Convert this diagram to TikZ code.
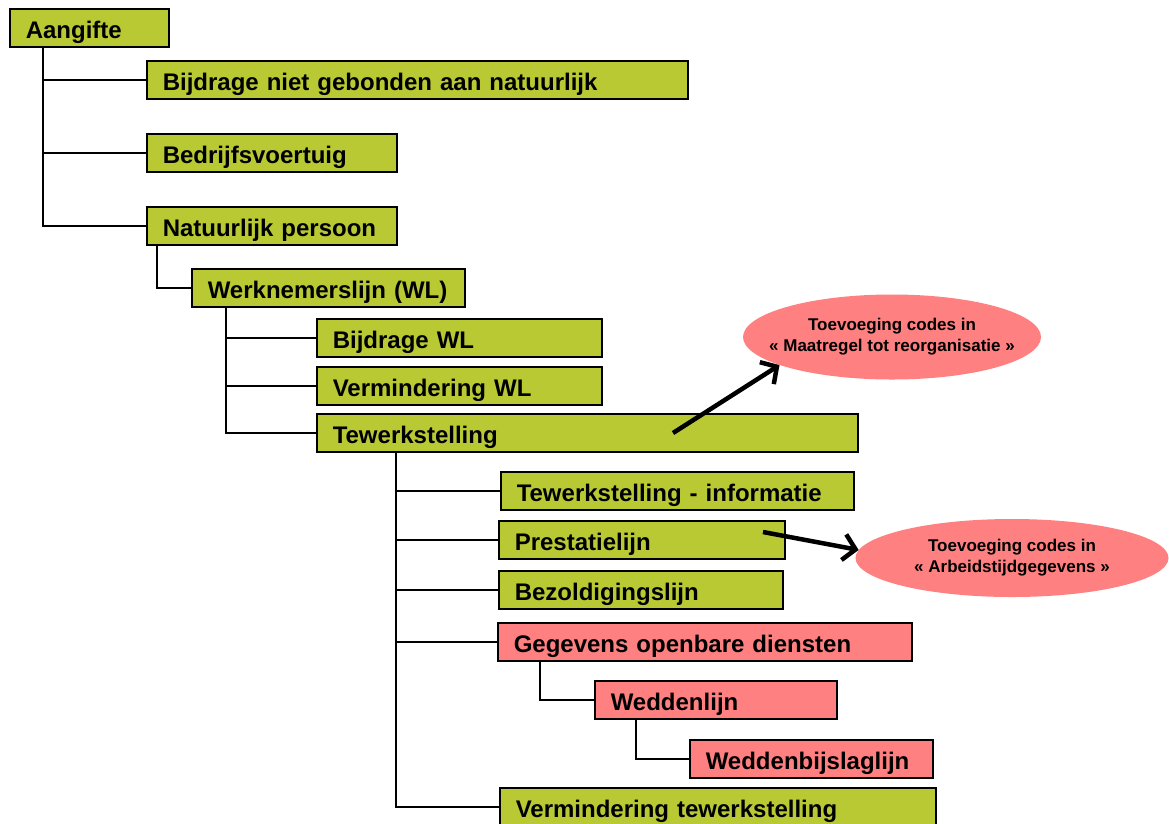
\documentclass[tikz,border=0pt]{standalone}
\usepackage{fontspec}
\setmainfont{Liberation Sans}
\usetikzlibrary{shapes.geometric,arrows.meta}
\definecolor{groen}{RGB}{185,201,51}
\definecolor{roze}{RGB}{255,128,128}
\begin{document}
\begin{tikzpicture}[x=1pt,y=-1pt,
  blok/.style={draw, fill=groen, line width=1.5pt, anchor=north west, inner xsep=16pt, inner ysep=0pt,
    text height=30pt, text depth=8pt, align=left, font=\fontsize{24}{28}\selectfont\bfseries},
  rblok/.style={blok, fill=roze},
  wolk/.style={ellipse, fill=roze, inner xsep=-20pt, inner ysep=0pt, align=center, font=\fontsize{17}{21}\selectfont\bfseries},
  lijn/.style={line width=1.5pt},
  pijl/.style={line width=4.5pt, -{Straight Barb[length=12pt,width=26pt]}}]

\clip (0,0) rectangle (1169,823);

\node[blok, text width=127pt] (aangifte) at (9,8) {Aangifte};
\node[blok, text width=509pt] (bijdrniet) at (146,60) {Bijdrage niet gebonden aan natuurlijk};
\node[blok, text width=218pt] (bedrijf) at (146,133) {Bedrijfsvoertuig};
\node[blok, text width=218pt] (natp) at (146,206) {Natuurlijk persoon};
\node[blok, text width=241pt] (werkn) at (191,268) {Werknemerslijn (WL)};
\node[blok, text width=253pt] (bijdrwl) at (316,318) {Bijdrage WL};
\node[blok, text width=253pt] (vermwl) at (316,366) {Vermindering WL};
\node[blok, text width=509pt] (tewerk) at (316,413) {Tewerkstelling};
\node[blok, text width=321pt] (tewinfo) at (500,471) {Tewerkstelling - informatie};
\node[blok, text width=254pt] (prest) at (498,520) {Prestatielijn};
\node[blok, text width=252pt] (bezold) at (498,570) {Bezoldigingslijn};
\node[rblok, text width=382pt] (gegev) at (497,622) {Gegevens openbare diensten};
\node[rblok, text width=210pt] (wedden) at (594,680) {Weddenlijn};
\node[rblok, text width=211pt] (weddbijsl) at (689,739) {Weddenbijslaglijn};
\node[blok, text width=404pt] (vermtew) at (499,787) {Vermindering tewerkstelling};

\node[wolk, minimum width=298pt, minimum height=85pt] (wolk1) at (892,337) {Toevoeging codes in\\« Maatregel tot reorganisatie »};
\node[wolk, minimum width=313pt, minimum height=78pt] (wolk2) at (1012,558) {Toevoeging codes in\\« Arbeidstijdgegevens »};

% boom
\draw[lijn] ([xshift=34pt]aangifte.south west) |- (bijdrniet.west);
\draw[lijn] ([xshift=34pt]aangifte.south west) |- (bedrijf.west);
\draw[lijn] ([xshift=34pt]aangifte.south west) |- (natp.west);
\draw[lijn] ([xshift=11pt]natp.south west) |- (werkn.west);
\draw[lijn] ([xshift=35pt]werkn.south west) |- (bijdrwl.west);
\draw[lijn] ([xshift=35pt]werkn.south west) |- (vermwl.west);
\draw[lijn] ([xshift=35pt]werkn.south west) |- (tewerk.west);
\draw[lijn] ([xshift=80pt]tewerk.south west) |- (tewinfo.west);
\draw[lijn] ([xshift=80pt]tewerk.south west) |- (prest.west);
\draw[lijn] ([xshift=80pt]tewerk.south west) |- (bezold.west);
\draw[lijn] ([xshift=80pt]tewerk.south west) |- (gegev.west);
\draw[lijn] ([xshift=80pt]tewerk.south west) |- (vermtew.west);
\draw[lijn] ([xshift=43pt]gegev.south west) |- (wedden.west);
\draw[lijn] ([xshift=42pt]wedden.south west) |- (weddbijsl.west);

% pijlen
\coordinate (start1) at (673,433);
\coordinate (start2) at (763,532);
\draw[pijl] (start1) -- (wolk1.194);
\draw[pijl] (start2) -- (wolk2.177);

\end{tikzpicture}
\end{document}
